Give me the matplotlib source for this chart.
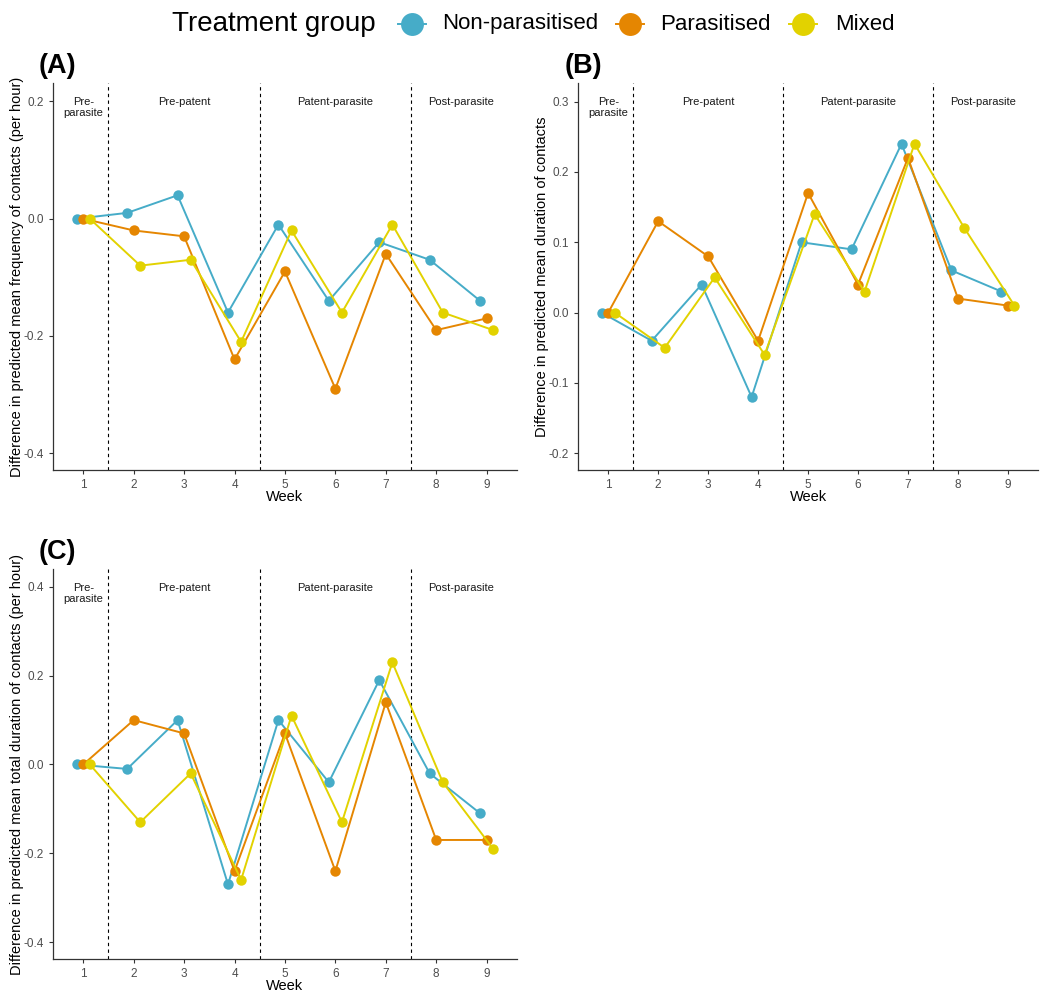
import matplotlib
matplotlib.use("Agg")
import matplotlib.pyplot as plt
from matplotlib.lines import Line2D

plt.rcParams['font.family'] = ['Liberation Sans', 'DejaVu Sans']

weeks = [1, 2, 3, 4, 5, 6, 7, 8, 9]
groups = ["Non-parasitised", "Parasitised", "Mixed"]
colors = ["#46ACC8", "#E58601", "#E2D200"]

# panel A: mean frequency of contacts (per hour)
freq_non = [0, 0.01, 0.04, -0.16, -0.01, -0.14, -0.04, -0.07, -0.14]
freq_par = [0, -0.02, -0.03, -0.24, -0.09, -0.29, -0.06, -0.19, -0.17]
freq_mix = [0, -0.08, -0.07, -0.21, -0.02, -0.16, -0.01, -0.16, -0.19]

# panel B: mean duration of contacts
dur_non = [0, -0.04, 0.04, -0.12, 0.10, 0.09, 0.24, 0.06, 0.03]
dur_par = [0, 0.13, 0.08, -0.04, 0.17, 0.04, 0.22, 0.02, 0.01]
dur_mix = [0, -0.05, 0.05, -0.06, 0.14, 0.03, 0.24, 0.12, 0.01]

# panel C: mean total duration of contacts (per hour)
tot_non = [0, -0.01, 0.10, -0.27, 0.10, -0.04, 0.19, -0.02, -0.11]
tot_par = [0, 0.10, 0.07, -0.24, 0.07, -0.24, 0.14, -0.17, -0.17]
tot_mix = [0, -0.13, -0.02, -0.26, 0.11, -0.13, 0.23, -0.04, -0.19]

phases = ["Pre-\nparasite", "Pre-patent", "Patent-parasite", "Post-parasite"]
phase_x = [1, 3, 6, 8.5]
phase_breaks = [1.5, 4.5, 7.5]
offsets = [-0.13, 0, 0.13]

fig = plt.figure(figsize=(10.4, 9.92), dpi=100)

panels = [
    ("(A)", [0.051, 0.526, 0.446, 0.390], [freq_non, freq_par, freq_mix],
     (-0.429, 0.231), [-0.4, -0.2, 0.0, 0.2], 0.2,
     "Difference in predicted mean frequency of contacts (per hour)"),
    ("(B)", [0.556, 0.526, 0.442, 0.390], [dur_non, dur_par, dur_mix],
     (-0.224, 0.326), [-0.2, -0.1, 0.0, 0.1, 0.2, 0.3], 0.3,
     "Difference in predicted mean duration of contacts"),
    ("(C)", [0.051, 0.0333, 0.446, 0.393], [tot_non, tot_par, tot_mix],
     (-0.438, 0.44), [-0.4, -0.2, 0.0, 0.2, 0.4], 0.4,
     "Difference in predicted mean total duration of contacts (per hour)"),
]

for tag, rect, series, ylim, yticks, ytext, ylabel in panels:
    ax = fig.add_axes(rect)
    for vals, col, off in zip(series, colors, offsets):
        xs = [w + off for w in weeks]
        ax.plot(xs, vals, color=col, lw=1.4, marker='o', markersize=7.5,
                markeredgewidth=0, zorder=3)
    for b in phase_breaks:
        ax.axvline(b, color='black', ls=(0, (3, 3)), lw=0.8, zorder=1)
    # phase names, first line centred on the top tick
    for lab, px in zip(phases, phase_x):
        ax.annotate(lab, (px, ytext), xytext=(0, 3), textcoords='offset points',
                    ha='center', va='top', fontsize=8, color='#1a1a1a',
                    linespacing=1.1)
    ax.set_xlim(0.4, 9.6)
    ax.set_ylim(*ylim)
    ax.set_xticks(weeks)
    ax.set_yticks(yticks)
    ax.set_yticklabels([f"{t:.1f}" for t in yticks])
    ax.tick_params(labelsize=8.5, labelcolor='#4d4d4d', color='#333333',
                   length=3, width=0.8)
    for s in ['top', 'right']:
        ax.spines[s].set_visible(False)
    for s in ['left', 'bottom']:
        ax.spines[s].set_color('#333333')
        ax.spines[s].set_linewidth(0.9)
    ax.set_xlabel("Week", fontsize=10.5, labelpad=-1)
    ax.set_ylabel(ylabel, fontsize=10.5, labelpad=0)
    ax.text(-0.03, 1.01, tag, transform=ax.transAxes, fontsize=19.5,
            fontweight='bold', ha='left', va='bottom')

# legend along the top, drawn by hand in figure pixels
W, H = 1040, 992
ly = 1 - 24 / H
fig.text(172 / W, ly, "Treatment group", fontsize=20, ha='left', va='center')
key_x = [412, 630, 803]
lab_x = [442, 660, 835]
for g, c, kx, tx in zip(groups, colors, key_x, lab_x):
    fig.add_artist(Line2D([(kx - 14) / W, (kx + 14) / W], [ly, ly], color=c,
                          lw=1.4, transform=fig.transFigure))
    fig.add_artist(Line2D([kx / W], [ly], color=c, marker='o', markersize=16.5,
                          markeredgewidth=0, transform=fig.transFigure))
    fig.text(tx / W, ly, g, fontsize=16, ha='left', va='center')

fig.savefig("out.png", dpi=100)
